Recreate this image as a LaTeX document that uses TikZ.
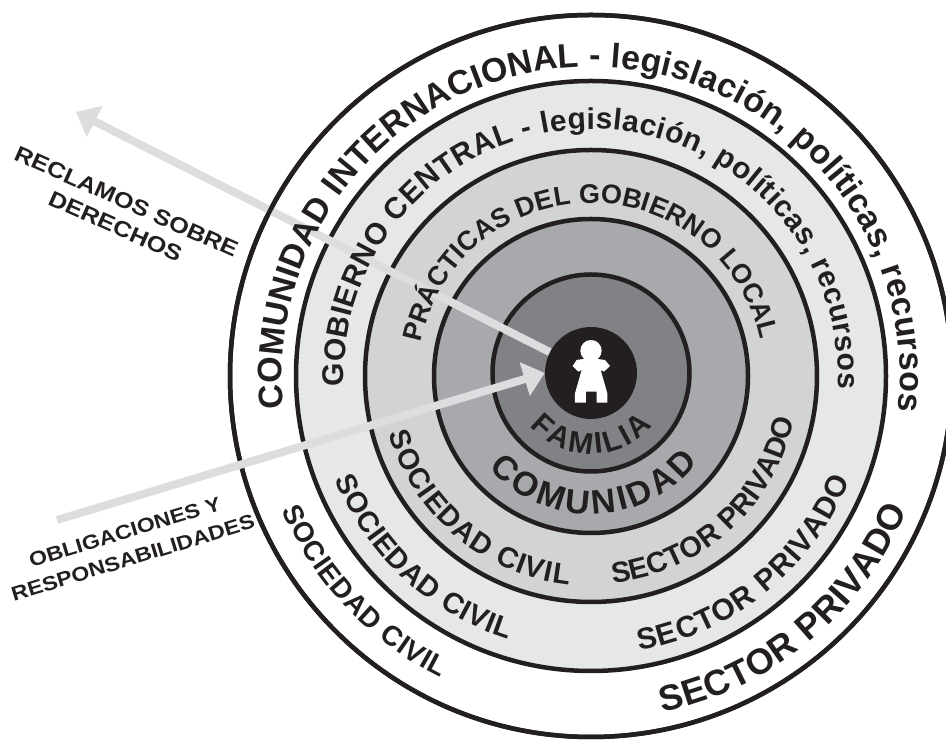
\documentclass[tikz,border=0pt]{standalone}
\usepackage{fontspec}
\setmainfont{Liberation Sans}
\newfontfamily\labelfont[FakeStretch=1.15]{Liberation Sans Bold}
\newfontfamily\anillofont{Liberation Sans Bold}
\usetikzlibrary{arrows.meta,decorations.text}

\definecolor{tinta}{HTML}{231F20}
\definecolor{flecha}{HTML}{DCDDDF}
\definecolor{anillouno}{HTML}{E6E7E8}
\definecolor{anillodos}{HTML}{D1D3D4}
\definecolor{anillotres}{HTML}{A7A9AC}
\definecolor{anillocuatro}{HTML}{808285}

\tikzset{
  ring/.style={draw=tinta,circle,line width=4.5pt,inner sep=0pt,minimum size=#1},
  flechagris/.style={draw=flecha,line width=8pt,-{Triangle[length=21pt,width=34pt]}},
  rotulo/.style={text=tinta,align=center,inner sep=0pt,font=\labelfont\fontsize{#1}{27}\selectfont},
  arco/.style={decorate,decoration={text along path,text={#1},text align=fit to path}}
}
\newcommand{\fuente}[1]{\anillofont\fontsize{#1}{#1}\selectfont\color{tinta}}

\begin{document}
\begin{tikzpicture}[x=1pt,y=1pt]
  \useasboundingbox (0,0) rectangle (946,741);
  \coordinate (centro) at (591,365);

  % anillos
  \node[ring=722pt,fill=white] (internacional) at (centro) {};
  \node[ring=590pt,fill=anillouno] (central) at (centro) {};
  \node[ring=452pt,fill=anillodos] (local) at (centro) {};
  \node[ring=314pt,fill=anillotres] (comunidad) at (centro) {};
  \node[ring=197pt,fill=anillocuatro] (familia) at (591,368) {};
  \node[circle,fill=tinta,minimum size=92pt,inner sep=0pt] (nino) at (591,368) {};

  % flechas
  \coordinate (reclamos) at (76,629);
  \coordinate (obligaciones) at (57,221);
  \draw[flechagris] (nino) -- (reclamos);
  \node[ring=722pt] (borde) at (centro) {};
  \draw[flechagris] (obligaciones) -- (nino.west);

  % nino
  \begin{scope}[shift={(480,461)},x=0.3333pt,y=-0.3333pt]
    \fill[white] (333,212) circle[radius=32];
    \fill[white] (310,237) -- (290,240) -- (278,258) -- (295,275) -- (305,270) -- (285,340)
      -- (285,368) -- (318,368) -- (318,335) -- (350,335) -- (350,368) -- (382,368)
      -- (382,340) -- (362,270) -- (372,275) -- (390,258) -- (375,240) -- (352,237) -- cycle;
  \end{scope}

  % textos de arriba
  \path[arco={|\fuente{34}|COMUNIDAD INTERNACIONAL - legislación, políticas, recursos}]
    (centro) ++(186:309) arc[start angle=186,end angle=-6.5,radius=309];
  \path[arco={|\fuente{30}|GOBIERNO CENTRAL - legislación, políticas, recursos}]
    (centro) ++(182.5:247) arc[start angle=182.5,end angle=-3,radius=247];
  \path[arco={|\fuente{27}|PRÁCTICAS DEL GOBIERNO LOCAL}]
    (centro) ++(169:173) arc[start angle=169,end angle=13,radius=173];

  % textos de abajo
  \path[arco={|\fuente{30}|FAMILIA}]
    (familia) ++(221:81) arc[start angle=221,end angle=319,radius=81];
  \path[arco={|\fuente{34}|COMUNIDAD}]
    (centro) ++(222:138) arc[start angle=222,end angle=321,radius=138];
  \path[arco={|\fuente{29}|SOCIEDAD CIVIL}]
    (centro) ++(196:210) arc[start angle=196,end angle=264,radius=210];
  \path[arco={|\fuente{29}|SECTOR PRIVADO}]
    (centro) ++(276:208) arc[start angle=276,end angle=348,radius=208];
  \path[arco={|\fuente{29}|SOCIEDAD CIVIL}]
    (centro) ++(202:276) arc[start angle=202,end angle=252.5,radius=276];
  \path[arco={|\fuente{30}|SECTOR PRIVADO}]
    (centro) ++(280:279) arc[start angle=280,end angle=338,radius=279];
  \path[arco={|\fuente{28}|SOCIEDAD CIVIL}]
    (centro) ++(203.5:337) arc[start angle=203.5,end angle=243.5,radius=337];
  \path[arco={|\fuente{36}|SECTOR PRIVADO}]
    (centro) ++(282:344) arc[start angle=282,end angle=337,radius=344];

  % rotulos
  \node[rotulo=22,rotate=-24] (derechos) at (121,527) {RECLAMOS SOBRE\\DERECHOS};
  \node[rotulo=20,rotate=17] (deberes) at (129,196) {OBLIGACIONES Y\\RESPONSABILIDADES};
\end{tikzpicture}
\end{document}
